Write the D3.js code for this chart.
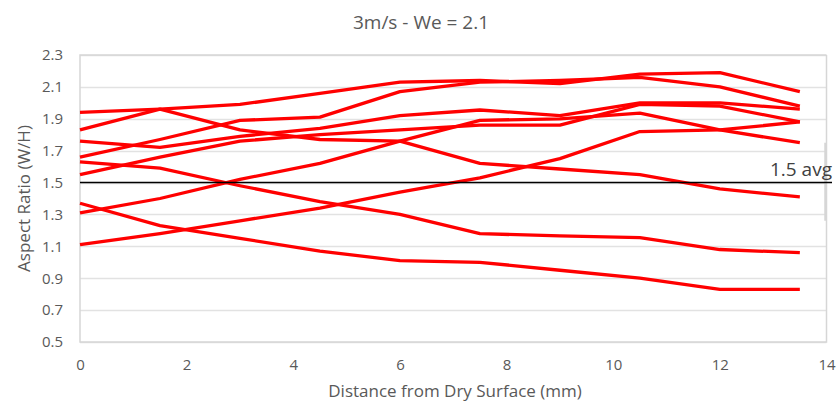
<!DOCTYPE html>
<html>
<head>
<meta charset="utf-8">
<script src="https://cdn.jsdelivr.net/npm/d3@7"></script>
<style>
  body { margin: 0; background: #fff; }
  svg { display: block; font-family: "Open Sans", sans-serif; }
</style>
</head>
<body>
<div id="chart"></div>
<script>
const distances = [0, 1.5, 3, 4.5, 6, 7.5, 9, 10.5, 12, 13.5];

const run1 = [1.37, 1.23, 1.15, 1.07, 1.01, 1.0, 0.95, 0.9, 0.83, 0.83];
const run2 = [1.63, 1.59, 1.48, 1.38, 1.3, 1.18, 1.165, 1.155, 1.08, 1.06];
const run3 = [1.83, 1.96, 1.83, 1.77, 1.76, 1.62, 1.585, 1.55, 1.46, 1.41];
const run4 = [1.94, 1.96, 1.99, 2.06, 2.13, 2.14, 2.12, 2.18, 2.19, 2.07];
const run5 = [1.66, 1.77, 1.89, 1.91, 2.07, 2.13, 2.14, 2.16, 2.1, 1.98];
const run6 = [1.11, 1.18, 1.26, 1.34, 1.44, 1.53, 1.65, 1.82, 1.83, 1.88];
const run7 = [1.31, 1.4, 1.52, 1.62, 1.76, 1.89, 1.9, 1.935, 1.83, 1.75];
const run8 = [1.76, 1.72, 1.79, 1.84, 1.92, 1.955, 1.92, 2.0, 2.0, 1.96];
const run9 = [1.55, 1.66, 1.76, 1.8, 1.83, 1.86, 1.86, 1.99, 1.98, 1.88];

const runs = [run1, run2, run3, run4, run5, run6, run7, run8, run9];

const xTicks = [0, 2, 4, 6, 8, 10, 12, 14];
const yTicks = [0.5, 0.7, 0.9, 1.1, 1.3, 1.5, 1.7, 1.9, 2.1, 2.3];
const average = 1.5;

const width = 837,
  height = 406;
const margin = { top: 55, right: 10.5, bottom: 64, left: 80 };

const svg = d3
  .select("#chart")
  .append("svg")
  .attr("width", width)
  .attr("height", height);

const x = d3
  .scaleLinear()
  .domain([0, 14])
  .range([margin.left, width - margin.right]);

const y = d3
  .scaleLinear()
  .domain([0.5, 2.3])
  .range([height - margin.bottom, margin.top]);

// gridlines
svg
  .append("g")
  .selectAll("line")
  .data(yTicks)
  .join("line")
  .attr("x1", x(0))
  .attr("x2", x(14))
  .attr("y1", (d) => Math.round(y(d)) + 0.5)
  .attr("y2", (d) => Math.round(y(d)) + 0.5)
  .attr("stroke", "#e2e2e2")
  .attr("stroke-width", 1.5);

// plot border, right edge is broken where the label box sits
const border = d3.path();
border.moveTo(x(14), y(2.3));
border.lineTo(x(0), y(2.3));
border.lineTo(x(0), y(0.5));
border.lineTo(x(14), y(0.5));
border.lineTo(x(14), y(1.75));
border.moveTo(x(14) - 1.5, y(1.75));
border.lineTo(x(14) - 1.5, y(1.26));
border.moveTo(x(14), y(1.26));
border.lineTo(x(14), y(2.3));

svg
  .append("path")
  .attr("d", border.toString())
  .attr("fill", "none")
  .attr("stroke", "#d6d6d6")
  .attr("stroke-width", 1.5);

// axes
const xAxis = svg
  .append("g")
  .attr("transform", `translate(0,${y(0.5)})`)
  .call(d3.axisBottom(x).tickValues(xTicks).tickSize(0).tickPadding(17));

const yAxis = svg
  .append("g")
  .attr("transform", `translate(${x(0)},0)`)
  .call(
    d3
      .axisLeft(y)
      .tickValues(yTicks)
      .tickSize(0)
      .tickPadding(17)
      .tickFormat(d3.format(".1f"))
  );

[xAxis, yAxis].forEach((g) => {
  g.select(".domain").remove();
  g.selectAll("text")
    .attr("fill", "#595959")
    .style("font-size", "15px")
    .style("font-family", "'Open Sans', sans-serif");
});

// lines
const line = d3
  .line()
  .x((d, i) => x(distances[i]))
  .y((d) => y(d));

svg
  .append("g")
  .selectAll("path")
  .data(runs)
  .join("path")
  .attr("d", line)
  .attr("fill", "none")
  .attr("stroke", "#ff0000")
  .attr("stroke-width", 3.3)
  .attr("stroke-linejoin", "round");

// average line + label
svg
  .append("line")
  .attr("x1", x(0))
  .attr("x2", 832)
  .attr("y1", y(average))
  .attr("y2", y(average))
  .attr("stroke", "#000")
  .attr("stroke-width", 1.6);

svg
  .append("text")
  .attr("x", 832)
  .attr("y", y(average) - 7)
  .attr("text-anchor", "end")
  .attr("fill", "#404040")
  .style("font-size", "19px")
  .text(`${average} avg`);

// title
svg
  .append("text")
  .attr("x", 421)
  .attr("y", 29)
  .attr("text-anchor", "middle")
  .attr("fill", "#595959")
  .style("font-size", "19px")
  .text("3m/s - We = 2.1");

// axis titles
svg
  .append("text")
  .attr("x", 455)
  .attr("y", 397)
  .attr("text-anchor", "middle")
  .attr("fill", "#595959")
  .style("font-size", "17px")
  .text("Distance from Dry Surface (mm)");

svg
  .append("text")
  .attr("transform", `translate(30,${(y(0.5) + y(2.3)) / 2}) rotate(-90)`)
  .attr("text-anchor", "middle")
  .attr("fill", "#595959")
  .style("font-size", "17px")
  .text("Aspect Ratio (W/H)");
</script>
</body>
</html>
